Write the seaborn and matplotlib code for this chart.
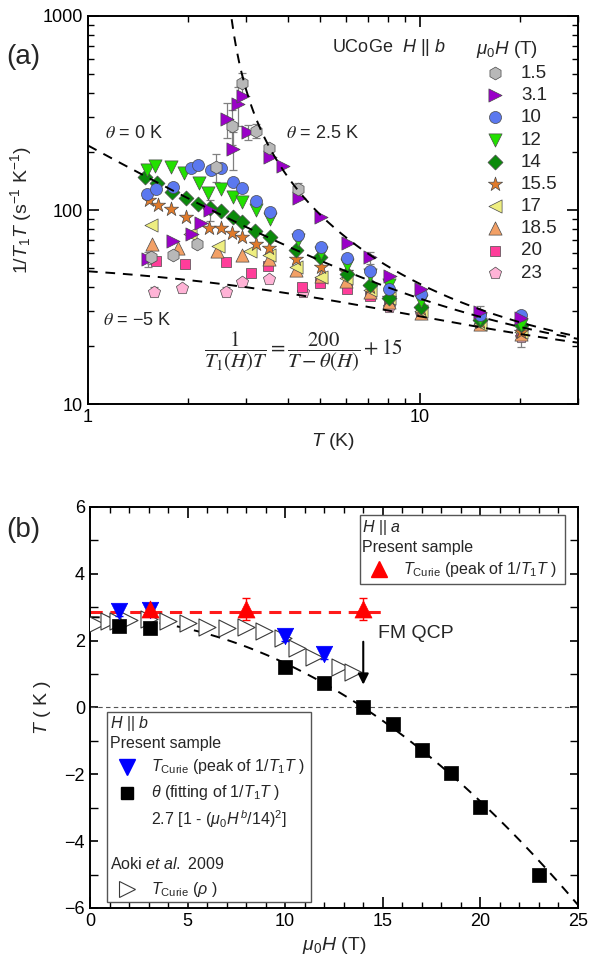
import numpy as np
import matplotlib
matplotlib.use("Agg")
import matplotlib.pyplot as plt
import seaborn as sns
from matplotlib.ticker import MultipleLocator, NullFormatter
from matplotlib.patches import Rectangle

# ---------------------------------------------------------------
# Panel (a): 1/T1T vs T, UCoGe H || b, one series per field (T)
# ---------------------------------------------------------------
t_1p5 = [1.55, 1.81, 2.13, 2.43, 2.71, 2.92, 3.22, 3.51, 4.29]
r_1p5 = [57.4, 58.6, 66.8, 167, 271, 450, 256, 208, 129]
e_1p5 = [5, 0, 0, 28, 55, 60, 22, 0, 8]

t_3p1 = [1.52, 1.81, 2.06, 2.19, 2.34, 2.63, 2.73, 2.83, 2.94, 3.04,
         3.54, 3.86, 4.33, 5.05, 6.08, 7.10, 8.13, 10.1, 15.2, 20.2]
r_3p1 = [55.7, 69.2, 75, 85.3, 100, 294, 206, 351, 387, 252,
         187, 169, 116, 92, 67.8, 57, 45.7, 39, 29.9, 27.7]
e_3p1 = [5, 0, 0, 0, 12, 60, 45, 80, 0, 22,
         0, 0, 0, 0, 0, 4, 0, 0, 2, 0]

t_10 = [1.51, 1.60, 1.81, 2.04, 2.14, 2.35, 2.52, 2.73, 2.92, 3.22,
        3.54, 4.29, 5.05, 6.05, 7.07, 8.07, 10.1, 15.2, 20.2]
r_10 = [121, 129, 131, 164, 171, 161, 165, 140, 130, 111,
        98, 74.3, 64.3, 56.4, 48.6, 39.2, 37, 28.8, 28.8]

t_12 = [1.51, 1.59, 1.78, 1.95, 2.16, 2.30, 2.52, 2.73, 2.92, 3.20,
        3.54, 4.29, 5.05, 6.05, 7.07, 8.07, 10.1, 15.2, 20.2]
r_12 = [160, 169, 167, 156, 138, 122, 129, 117, 110, 100,
        90, 70, 60, 52, 46, 41, 34, 27.4, 25.5]

t_14 = [1.49, 1.62, 1.79, 1.98, 2.14, 2.34, 2.52, 2.73, 2.92, 3.19,
        3.53, 4.24, 5.02, 6.05, 7.07, 8.07, 10.1, 15.2, 20.2]
r_14 = [148, 138, 124, 115, 107, 102, 99, 92, 87, 78,
        73, 62, 57, 47, 41, 35, 31.5, 27, 25.5]

t_15p5 = [1.53, 1.63, 1.78, 1.98, 2.32, 2.51, 2.71, 2.92, 3.20, 3.52,
          4.24, 5.05, 6.0, 7.07, 8.07, 10.1, 15.2, 20.2]
r_15p5 = [113, 106, 101, 92, 81, 81, 76, 73, 67, 63.5,
          56, 51, 48, 40, 35, 31, 26.5, 23.6]

t_17 = [1.55, 2.03, 2.46, 3.08, 3.52, 4.24, 5.05, 6.0, 7.07, 8.07, 10.1, 15.2, 20.2]
r_17 = [84, 75, 65.5, 61.5, 58.6, 51, 45, 44.5, 38.5, 35, 30, 26, 23.5]

t_18p5 = [1.56, 1.87, 2.45, 2.92, 3.52, 4.24, 5.05, 6.0, 7.07, 8.07, 10.1, 15.2, 20.2]
r_18p5 = [67, 64, 61.5, 58.6, 55.7, 49, 45.5, 43, 38, 33.5, 29.5, 26, 23]

t_20 = [1.60, 1.96, 2.61, 3.11, 3.50, 4.41, 5.02, 6.05, 7.07, 8.07, 10.1, 15.2, 20.2]
r_20 = [54.6, 52.7, 54, 47.5, 51.7, 40.3, 41.9, 39, 36, 33.6, 29.5, 26, 23]

t_23 = [1.58, 1.92, 2.60, 2.92, 3.52, 4.44, 8.07, 10.1, 15.2, 20.2]
r_23 = [38, 39.4, 38, 42.7, 44, 38, 31.8, 29, 25.5, 22.2]
e_23 = [2, 0, 2, 0, 0, 0, 0, 0, 0, 2.5]

# fit curves 1/T1T = A/(T - theta) + B
fit_a = 200.0
fit_b = 15.0
fit_thetas = [0.0, 2.5, -5.0]

# ---------------------------------------------------------------
# Panel (b): field dependence of T_Curie and theta
# ---------------------------------------------------------------
h_curie_b = [1.5, 3.1, 10, 12]
t_curie_b = [2.9, 2.93, 2.15, 1.6]
err_curie_b = [0.15, 0.12, 0.15, 0.15]

h_theta = [1.5, 3.1, 10, 12, 14, 15.5, 17, 18.5, 20, 23]
t_theta = [2.45, 2.39, 1.22, 0.73, 0.0, -0.5, -1.27, -1.97, -2.97, -5.0]

h_curie_a = [3.1, 8, 14]
t_curie_a = [2.95, 2.95, 2.95]
err_curie_a = [0.0, 0.32, 0.32]

h_aoki = [0.3, 0.95, 1.45, 2.0, 3.0, 4.0, 5.0, 6.0, 7.0, 8.0,
          8.9, 9.9, 10.6, 11.5, 12.8, 13.5]
t_aoki = [2.49, 2.58, 2.6, 2.62, 2.66, 2.6, 2.54, 2.42, 2.37, 2.4,
          2.3, 2.08, 1.78, 1.52, 1.22, 1.05]

theta0 = 2.7        # 2.7 [1 - (H/14)^2]
h_qcp = 14.0
red_level = 2.85
red_end = 15.0

# ---------------------------------------------------------------
sns.set_theme(style="ticks")
plt.rcParams["font.family"] = ["Liberation Sans", "DejaVu Sans"]
plt.rcParams["mathtext.fontset"] = "custom"
plt.rcParams["mathtext.rm"] = "Liberation Sans"
plt.rcParams["mathtext.it"] = "Liberation Sans:italic"
plt.rcParams["mathtext.bf"] = "Liberation Sans:bold"
plt.rcParams["axes.linewidth"] = 1.4

fig = plt.figure(figsize=(5.92, 9.68), dpi=100)
ax_a = fig.add_axes([0.1486, 0.5826, 0.8277, 0.4009])
ax_b = fig.add_axes([0.152, 0.062, 0.8243, 0.4143])

dash = (0, (5, 4))

# ---- panel (a) ----
edge = "#4a4a4a"
series_a = [
    ("1.5", t_1p5, r_1p5, "h", "#b8b8b8", 85),
    ("3.1", t_3p1, r_3p1, ">", "#9a00c8", 90),
    ("10", t_10, r_10, "o", "#5b78ef", 75),
    ("12", t_12, r_12, "v", "#22e000", 90),
    ("14", t_14, r_14, "D", "#0b8a0b", 58),
    ("15.5", t_15p5, r_15p5, "*", "#e07a2a", 115),
    ("17", t_17, r_17, "<", "#eeee80", 90),
    ("18.5", t_18p5, r_18p5, "^", "#f2a066", 90),
    ("20", t_20, r_20, "s", "#ff3d9a", 58),
    ("23", t_23, r_23, "p", "#ffb3d6", 85),
]

for name, temps, rates, errs in [("1.5", t_1p5, r_1p5, e_1p5),
                                  ("3.1", t_3p1, r_3p1, e_3p1),
                                  ("23", t_23, r_23, e_23)]:
    ax_a.errorbar(temps, rates, yerr=errs, fmt="none", ecolor="#808080",
                  elinewidth=0.9, capsize=3, capthick=0.9, zorder=2)

for name, temps, rates, marker, color, size in reversed(series_a):
    sns.scatterplot(x=temps, y=rates, ax=ax_a, marker=marker, color=color,
                    s=size, edgecolor=edge, linewidth=0.5, label=name,
                    legend=False, zorder=3)

t_grid = np.logspace(0, np.log10(30), 400)
for th in fit_thetas:
    tt = t_grid[t_grid > th + 0.2]
    ax_a.plot(tt, fit_a / (tt - th) + fit_b, color="black", lw=1.4,
              ls=dash, zorder=4)

ax_a.set_xscale("log")
ax_a.set_yscale("log")
ax_a.set_xlim(1, 30)
ax_a.set_ylim(10, 1000)
ax_a.set_xticks([1, 10])
ax_a.set_xticklabels(["1", "10"])
ax_a.set_yticks([10, 100, 1000])
ax_a.set_yticklabels(["10", "100", "1000"])
ax_a.xaxis.set_minor_formatter(NullFormatter())
ax_a.yaxis.set_minor_formatter(NullFormatter())
ax_a.set_xlabel(r"$T$ (K)", fontsize=14, labelpad=4)
ax_a.set_ylabel(r"1/$T_1T$ (s$^{-1}$ K$^{-1}$)", fontsize=14, labelpad=6)

handles, labels = ax_a.get_legend_handles_labels()
order = [labels.index(s[0]) for s in series_a]
leg = ax_a.legend([handles[i] for i in order], [labels[i] for i in order],
                  title=r"$\mu_0H$ (T)", loc="upper right",
                  bbox_to_anchor=(0.985, 0.975), frameon=False, fontsize=13.5,
                  title_fontsize=13.5, labelspacing=0.27, handletextpad=0.4,
                  borderaxespad=0.3, alignment="left")

ax_a.text(0.498, 0.918, r"UCoGe  $H$ || $b$", transform=ax_a.transAxes,
          fontsize=13, va="center")
ax_a.text(0.035, 0.698, r"$\theta$ = 0 K", transform=ax_a.transAxes,
          fontsize=13, va="center", math_fontfamily="stix")
ax_a.text(0.404, 0.698, r"$\theta$ = 2.5 K", transform=ax_a.transAxes,
          fontsize=13, va="center", math_fontfamily="stix")
ax_a.text(0.03, 0.216, "$\\theta$ = \u22125 K", transform=ax_a.transAxes,
          fontsize=13, va="center", math_fontfamily="stix")
ax_a.text(0.44, 0.135,
          r"$\dfrac{1}{T_1(H)T} = \dfrac{200}{T-\theta(H)} + 15$",
          transform=ax_a.transAxes, fontsize=15, ha="center", va="center",
          math_fontfamily="stix")

# ---- panel (b) ----
h_grid = np.linspace(0, 25, 300)
ax_b.plot(h_grid, theta0 * (1 - (h_grid / h_qcp) ** 2), color="black",
          lw=1.4, ls=dash, zorder=2)
ax_b.hlines(red_level, 0, red_end, color="#ff1a1a", lw=2.2,
            linestyles=(0, (4, 2.5)), zorder=2)
ax_b.axhline(0, color="#555555", lw=0.8, ls=(0, (4, 3)), zorder=1)

sns.scatterplot(x=h_aoki, y=t_aoki, ax=ax_b, marker=">", s=150,
                color="white", edgecolor="#3a3a3a", linewidth=0.8,
                legend=False, zorder=3)
sns.scatterplot(x=h_theta, y=t_theta, ax=ax_b, marker="s", s=110,
                color="black", edgecolor="black", linewidth=0.5,
                legend=False, zorder=4)
ax_b.errorbar(h_curie_b, t_curie_b, yerr=err_curie_b, fmt="none",
              ecolor="#0000ff", elinewidth=1, capsize=3, zorder=4)
sns.scatterplot(x=h_curie_b, y=t_curie_b, ax=ax_b, marker="v", s=140,
                color="#0000ff", edgecolor="#0000ff", linewidth=0.5,
                legend=False, zorder=5)
ax_b.errorbar(h_curie_a, t_curie_a, yerr=err_curie_a, fmt="none",
              ecolor="#ff0000", elinewidth=1, capsize=3, zorder=4)
sns.scatterplot(x=h_curie_a, y=t_curie_a, ax=ax_b, marker="^", s=150,
                color="#ff0000", edgecolor="#ff0000", linewidth=0.5,
                legend=False, zorder=5)

ax_b.annotate("", xy=(h_qcp, 0.6), xytext=(h_qcp, 2.05),
              arrowprops=dict(arrowstyle="-|>", color="black", lw=1.5,
                              mutation_scale=16))
ax_b.text(14.75, 2.2, "FM QCP", fontsize=14, va="center")

ax_b.set_xlim(0, 25)
ax_b.set_ylim(-6, 6)
ax_b.xaxis.set_major_locator(MultipleLocator(5))
ax_b.xaxis.set_minor_locator(MultipleLocator(1))
ax_b.yaxis.set_major_locator(MultipleLocator(2))
ax_b.yaxis.set_minor_locator(MultipleLocator(1))
ax_b.set_xlabel(r"$\mu_0H$ (T)", fontsize=14, labelpad=4)
ax_b.set_ylabel(r"$T$ ( K )", fontsize=14, labelpad=8)

# legend box for H || a
ax_b.add_patch(Rectangle((0.553, 0.808), 0.42, 0.172, transform=ax_b.transAxes,
                         facecolor="white", edgecolor="#555555", lw=1, zorder=6))
ax_b.text(0.558, 0.948, r"$H$ || $a$", transform=ax_b.transAxes,
          fontsize=11.5, va="center", zorder=7)
ax_b.text(0.558, 0.898, "Present sample", transform=ax_b.transAxes,
          fontsize=11.5, va="center", zorder=7)
ax_b.plot([0.592], [0.845], transform=ax_b.transAxes, marker="^",
          color="#ff0000", ms=11, zorder=7)
ax_b.text(0.641, 0.845, r"$T_{\rm Curie}$ (peak of 1/$T_1T$ )",
          transform=ax_b.transAxes, fontsize=11.5, va="center", zorder=7)

# legend box for H || b
ax_b.add_patch(Rectangle((0.035, 0.015), 0.418, 0.474, transform=ax_b.transAxes,
                         facecolor="white", edgecolor="#555555", lw=1, zorder=6))
rows_b = [
    (0.461, None, r"$H$ || $b$"),
    (0.409, None, "Present sample"),
    (0.352, "v", r"$T_{\rm Curie}$ (peak of 1/$T_1T$ )"),
    (0.287, "s", r"$\theta$ (fitting of 1/$T_1T$ )"),
    (0.222, "", r"2.7 [1 - ($\mu_0H^{\,b}$/14)$^2$]"),
    (0.110, None, r"Aoki $et$ $al.$ 2009"),
    (0.047, ">", r"$T_{\rm Curie}$ ($\rho$ )"),
]
marker_style = {"v": dict(color="#0000ff", ms=11),
                "s": dict(color="black", ms=9),
                ">": dict(mfc="white", mec="#3a3a3a", mew=0.8, ms=12)}
for y, mk, txt in rows_b:
    x_txt = 0.04 if mk is None else 0.125
    if mk:
        ax_b.plot([0.076], [y], transform=ax_b.transAxes, marker=mk,
                  ls="none", zorder=7, **marker_style[mk])
    ax_b.text(x_txt, y, txt, transform=ax_b.transAxes, fontsize=11.5,
              va="center", zorder=7)

for ax in (ax_a, ax_b):
    ax.tick_params(which="both", direction="in", top=True, right=True,
                   labelsize=13, colors="black")
    ax.tick_params(which="major", length=8, width=1.2)
    ax.tick_params(which="minor", length=4.5, width=1.0)
    for sp in ax.spines.values():
        sp.set_visible(True)
        sp.set_color("black")
ax_b.tick_params(axis="y", which="both", length=6)

fig.text(0.01, 0.941, "(a)", fontsize=20, va="center")
fig.text(0.01, 0.452, "(b)", fontsize=20, va="center")

fig.savefig("out.png", dpi=100)
